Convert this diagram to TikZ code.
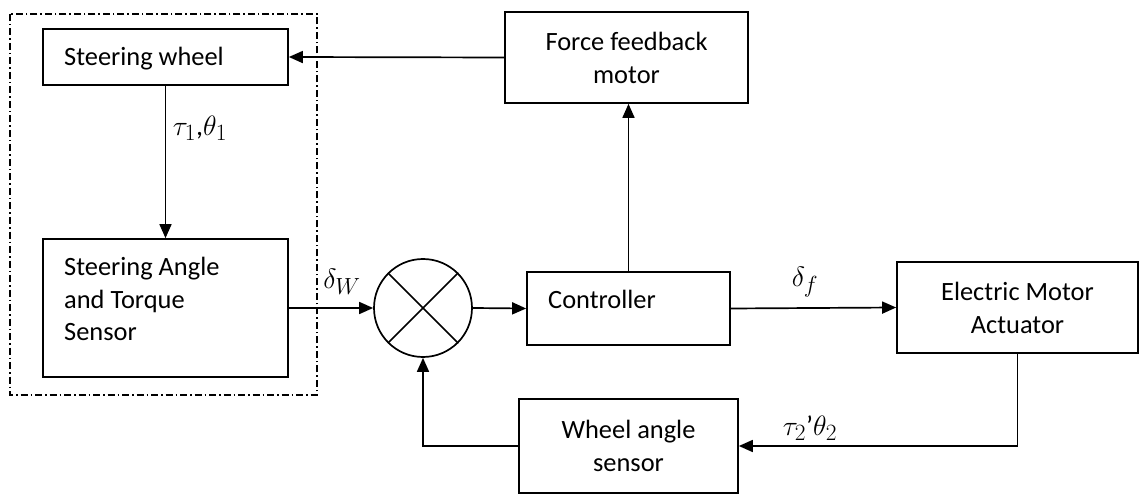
\documentclass[tikz,border=0pt]{standalone}
\usepackage{fontspec}
\setmainfont{Carlito}
\usetikzlibrary{arrows.meta}
\begin{document}
\begin{tikzpicture}[x=1bp,y=-1bp,
  every node/.style={font=\fontsize{26.5}{33}\selectfont},
  blk/.style={draw,line width=1.7bp,rectangle,inner sep=0pt,align=center},
  conn/.style={line width=1.7bp,-{Triangle[length=14bp,width=12bp]}},
  plain/.style={line width=1.7bp},
  lbl/.style={inner sep=0pt},
  mlbl/.style={inner sep=0pt,scale=1.13,transform shape,font=\fontsize{24.88}{30}\selectfont}]
\useasboundingbox (0,0) rectangle (1139,496);
% dash-dot frame
\draw[line width=1.5bp,dash pattern=on 7bp off 3bp on 1.5bp off 3bp] (10,14) rectangle (317,395);
% blocks
\node[blk,minimum width=245bp,minimum height=56bp] (sw) at (165.5,57) {};
\node[lbl,anchor=base west] (swt) at (64,66) {Steering wheel};
\node[blk,minimum width=245bp,minimum height=138bp] (sats) at (165.5,308) {};
\node[lbl,anchor=base west,align=left] (satst) at (64,341) {Steering Angle\\and Torque\\Sensor};
\node[blk,minimum width=243bp,minimum height=91bp] (ffm) at (626.5,57.5) {Force feedback\\motor};
\node[draw,circle,line width=1.7bp,minimum size=98bp,inner sep=0pt] (sum) at (423,308) {};
\draw[plain] (sum.north west) -- (sum.south east);
\draw[plain] (sum.north east) -- (sum.south west);
\node[blk,minimum width=203bp,minimum height=73bp] (ctrl) at (628.5,308.5) {};
\node[lbl,anchor=base west] (ctrlt) at (548,309) {Controller};
\node[blk,minimum width=241bp,minimum height=91bp] (ema) at (1017.5,307.5) {Electric Motor\\Actuator};
\node[blk,minimum width=219bp,minimum height=94bp] (was) at (628.5,446) {Wheel angle\\sensor};
% connectors
\draw[conn] (ffm.west) -- (sw.east);
\draw[conn] (sw.south) -- (sats.north);
\draw[conn] (sats.east) -- (sum.west);
\draw[conn] (sum.east) -- (ctrl.west);
\draw[conn] (ctrl.north) -- (ctrl.north |- ffm.south);
\draw[conn] (ctrl.east) -- (ema.west);
\draw[conn] (ema.south) |- (was.east);
\draw[conn] (was.west) -| (sum.south);
% labels
\node[mlbl] (l1) at (200,128) {$\tau_1$,$\theta_1$};
\node[mlbl] (l2) at (342,282) {$\delta_W$};
\node[mlbl] (l3) at (805,282) {$\delta_f$};
\node[mlbl] (l4) at (810,428) {$\tau_2$’$\theta_2$};
\end{tikzpicture}
\end{document}
